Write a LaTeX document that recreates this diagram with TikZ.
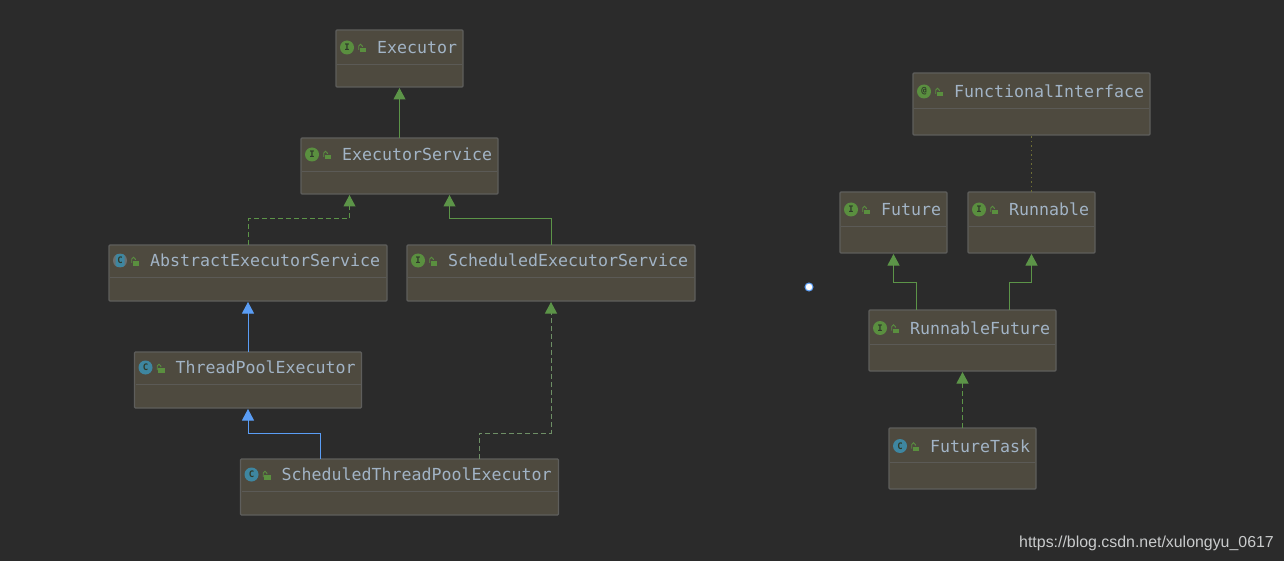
\documentclass[tikz,border=0pt]{standalone}
\usepackage{fontspec}
\setmainfont{Liberation Sans}
\setmonofont{DejaVu Sans Mono}
\usetikzlibrary{arrows.meta,calc}
\definecolor{bgc}{HTML}{2B2B2B}
\definecolor{boxfill}{HTML}{4E4A3F}
\definecolor{boxedge}{HTML}{5E5E5C}
\definecolor{divc}{HTML}{5B5A56}
\definecolor{titlec}{HTML}{A2B4C6}
\definecolor{igreen}{HTML}{5A8F3F}
\definecolor{cteal}{HTML}{3E86A0}
\definecolor{ringc}{HTML}{6A6F70}
\definecolor{glyphc}{HTML}{2F3A2A}
\definecolor{lineg}{HTML}{5C9448}
\definecolor{lineb}{HTML}{5A9DF5}
\definecolor{lined}{HTML}{6E8F66}
\definecolor{dotc}{HTML}{6E6E36}
\definecolor{markc}{HTML}{C9CBCC}
\tikzset{
  x=1pt,y=-1pt,
  umlbox/.style={draw=boxedge,fill=boxfill,line width=1.1pt,rounded corners=1pt,inner sep=0pt,outer sep=0pt},
  umltitle/.style={anchor=base west,inner sep=0pt,text=titlec,font=\fontsize{16.6}{18}\selectfont\ttfamily},
  iconnode/.style={circle,inner sep=0pt,minimum size=14pt,text=glyphc,font=\fontsize{9}{9}\selectfont\ttfamily\bfseries},
  inherit/.style={-{Triangle[length=11.5pt,width=12pt,color=lineg]},line width=1pt},
  inheritblue/.style={-{Triangle[length=11.5pt,width=12pt,color=lineb]},line width=1pt,color=lineb},
  realize/.style={inherit,dash pattern=on 5pt off 3pt},
  greenline/.style={color=lineg},
  dullline/.style={color=lined},
}
\newcommand{\umlclass}[9]{% name x1 y1 x2 y2 divider-y iconcolour glyph title
  \pgfmathsetmacro{\bw}{#4-#2}\pgfmathsetmacro{\bh}{#5-#3}
  \pgfmathsetmacro{\bx}{(#2+#4)/2}\pgfmathsetmacro{\by}{(#3+#5)/2}
  \node[umlbox,minimum width=\bw pt,minimum height=\bh pt] (#1) at (\bx,\by) {};
  \draw[divc,line width=.8pt] (#2+1,#6) -- (#4-1,#6);
  \node[iconnode,fill=#7] (#1-icon) at (#2+11,#6-16.5) {#8};
  \fill[igreen] (#2+23.5,#6-16) rectangle (#2+30,#6-11.5);
  \draw[igreen,line width=.9pt] (#2+22.7,#6-14) -- (#2+22.7,#6-18) arc[start angle=180,end angle=360,radius=1.8] -- +(0,1);
  \node[umltitle] (#1-title) at (#2+41,#6-10.5) {#9};
}
\begin{document}
\begin{tikzpicture}
\useasboundingbox (0,0) rectangle (1284,561);
\fill[bgc] (0,0) rectangle (1284,561);

\umlclass{ex}{336}{30}{463}{87}{64}{igreen}{I}{Executor}
\umlclass{es}{301}{138}{498}{194}{171}{igreen}{I}{ExecutorService}
\umlclass{ses}{407}{245}{695}{301}{277}{igreen}{I}{ScheduledExecutorService}
\umlclass{aes}{109}{245}{387}{301}{277}{ringc}{}{AbstractExecutorService}
\umlclass{tpe}{134.5}{352}{361.5}{408}{384}{cteal}{C}{ThreadPoolExecutor}
\umlclass{stpe}{240.5}{459}{558.5}{515}{491}{cteal}{C}{ScheduledThreadPoolExecutor}
\umlclass{fi}{913}{73}{1150}{135}{108}{igreen}{@}{FunctionalInterface}
\umlclass{fu}{840}{192}{947}{253}{226}{igreen}{I}{Future}
\umlclass{ru}{968}{192}{1095}{253}{226}{igreen}{I}{Runnable}
\umlclass{rf}{869}{310}{1056}{371}{344.5}{igreen}{I}{RunnableFuture}
\umlclass{ft}{889}{428}{1036}{489}{462.5}{cteal}{C}{FutureTask}
\node[fill=cteal,rounded corners=1.5pt,minimum width=9pt,minimum height=12.5pt,inner sep=0pt,text=glyphc,font=\fontsize{9}{9}\selectfont\ttfamily\bfseries] (aes-badge) at (aes-icon) {C};

\draw[inherit,greenline] (es.north) -- ([yshift=-1pt]ex.south);
\draw[realize,greenline] (aes.north) |- ([xshift=-50pt,yshift=-25pt]es.south) -- ([xshift=-50pt,yshift=-1pt]es.south);
\draw[inherit,greenline] (ses.north) |- ([xshift=50pt,yshift=-25pt]es.south) -- ([xshift=50pt,yshift=-1pt]es.south);
\draw[inheritblue] (tpe.north) -- ([yshift=-1pt]aes.south);
\draw[inheritblue] ([xshift=-79pt]stpe.north) |- ([yshift=-25pt]tpe.south) -- ([yshift=-1pt]tpe.south);
\draw[realize,dullline] ([xshift=79.5pt]stpe.north) |- ([yshift=-132pt]ses.south) -- ([yshift=-1pt]ses.south);
\draw[dotc,line width=.8pt,dash pattern=on 1.5pt off 3pt] (ru.north) -- (fi.south);
\draw[inherit,greenline] ([xshift=-46.5pt]rf.north) |- ([yshift=-29pt]fu.south) -- ([yshift=-1pt]fu.south);
\draw[inherit,greenline] ([xshift=46.5pt]rf.north) |- ([yshift=-29pt]ru.south) -- ([yshift=-1pt]ru.south);
\draw[realize,greenline] (ft.north) -- ([yshift=-1pt]rf.south);

\node[circle,fill=white,draw=lineb,line width=1pt,minimum size=8pt,inner sep=0pt] (dot) at (809,287) {};
\node[anchor=east,inner sep=0pt,text=markc,font=\fontsize{15.9}{18}\selectfont] (mark) at (1274,543) {https://blog.csdn.net/xulongyu\_0617};
\end{tikzpicture}
\end{document}
